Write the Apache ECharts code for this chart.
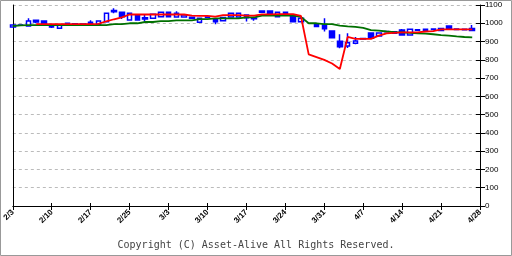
<!DOCTYPE html>
<html><head><meta charset="utf-8">
<script src="https://cdn.jsdelivr.net/npm/echarts@6/dist/echarts.min.js"></script>
<style>html,body{margin:0;padding:0;background:#fff}#c{width:512px;height:256px}</style>
</head><body><div id="c"></div>
<script>
// weekday slots 2/3 .. 4/28
const categories = (function(){
  const out=[]; const d=new Date(2025,1,3); const end=new Date(2025,3,28);
  while(d<=end){ const w=d.getDay(); if(w>0&&w<6) out.push((d.getMonth()+1)+'/'+d.getDate()); d.setDate(d.getDate()+1);} return out;})();
const tickLabels = ['2/3','2/10','2/17','2/25','3/3','3/10','3/17','3/24','3/31','4/7','4/14','4/21','4/28'];
// [open, close, low, high]
const ohlc = [
 [980,990,978,992],[989,991,988,992],[985,1012,984,1027],[1017,1007,1000,1018],[1012,995,994,1013],
 [983,979,974,988],[973,990,972,991],[1000,995,993,1001],[998,996,992,1002],[996,990,988,997],
 [1005,995,993,1016],[995,1012,993,1014],[1008,1055,1006,1056],[1070,1063,1055,1082],[1060,1036,1023,1061],
 [1018,1055,1016,1057],[1045,1018,1017,1047],[1030,1024,1009,1045],[1028,1050,1026,1052],[1036,1060,1035,1061],
 [1060,1036,1034,1062],[1034,1055,1032,1066],[1034,1045,1032,1047],[1033,1028,1023,1036],[1005,1027,1003,1029],
 [1035,1031,1029,1036],[1023,1008,995,1024],[1014,1032,1012,1034],[1034,1055,1032,1057],[1034,1055,1033,1056],
 [1045,1030,1010,1047],[1029,1025,1014,1036],[1067,1060,1058,1069],[1067,1050,1048,1069],[1036,1060,1034,1062],
 [1060,1055,1052,1062],[1042,1009,1007,1044],[1009,1027,1007,1030],'-',[996,982,980,998],
 [990,970,955,1027],[958,921,919,960],[902,872,863,940],[876,894,865,946],[890,903,885,925],
 [916,914,912,918],[947,918,916,949],[930,947,928,949],[955,953,951,957],[954,945,943,956],
 [963,936,934,968],[936,967,934,969],[964,962,958,968],[967,958,956,969],[968,966,964,970],
 [972,960,958,974],[985,972,970,987],[968,966,964,970],[967,965,963,969],[972,960,958,990],'-'
];
const redLine = ['-','-','-',995,995,995,995,995,995,995,995,997,1011,1022,1032,1048,1048,1048,1048,1048,
 1048,1048,1048,1042,1040,1040,1036,1045,1045,1045,1042,1042,1049,1049,1050,1050,1050,1040,830,815,
 800,780,750,925,915,915,915,932,945,948,950,950,950,955,957,967,967,967,967,967,'-'];
const greenLine = [985,988,990,990,990,990,990,990,990,990,990,990,990,995,995,1000,1000,1007,1007,1012,
 1012,1016,1016,1016,1023,1023,1027,1027,1027,1027,1032,1032,1042,1042,1042,1042,1042,1035,1000,1000,
 995,995,987,983,980,975,963,960,955,952,950,947,945,943,940,935,932,928,925,923,'-'];

const chart = echarts.init(document.getElementById('c'));
const tickInt = (i)=> i%5===0;
chart.setOption({
  animation:false,
  grid:{left:10,right:32,top:5,bottom:50},
  graphic:[
    {type:'rect',shape:{x:0.5,y:0.5,width:511,height:255},style:{fill:'none',stroke:'#999',lineWidth:1},silent:true},
    {type:'text',left:'center',top:240,style:{text:'Copyright (C) Asset-Alive All Rights Reserved.',font:'10px "DejaVu Sans Mono"',fill:'#444'}}
  ],
  xAxis:[
    {type:'category',data:categories,boundaryGap:false,position:'bottom',
     axisLine:{lineStyle:{color:'#000',width:1}},
     axisTick:{interval:tickInt,length:4,lineStyle:{color:'#000'}},
     axisLabel:{interval:tickInt,rotate:45,margin:5,fontSize:8,fontWeight:'bold',fontFamily:'Liberation Sans',color:'#000',
       formatter:(v,i)=> tickLabels[Math.round(i/5)]},
     splitLine:{show:false}},
    {type:'category',data:categories,boundaryGap:false,position:'bottom',
     axisLine:{show:false},axisTick:{interval:tickInt,inside:true,length:3,lineStyle:{color:'#000'}},
     axisLabel:{show:false},splitLine:{show:false}}
  ],
  yAxis:[
    {type:'value',position:'right',min:0,max:1100,interval:100,
     axisLine:{show:true,lineStyle:{color:'#000'}},
     axisTick:{show:true,length:5,lineStyle:{color:'#000'}},
     axisLabel:{margin:5,fontSize:8,fontFamily:'Liberation Sans',color:'#000',formatter:(v)=>String(v)},
     splitLine:{show:true,lineStyle:{color:'#bbb',type:[3,3],width:1}}},
    {type:'value',position:'right',min:0,max:1100,interval:100,
     axisLine:{show:false},axisTick:{show:true,inside:true,length:4,lineStyle:{color:'#000'}},
     axisLabel:{show:false},splitLine:{show:false}},
    {type:'value',position:'left',min:0,max:1100,interval:100,
     axisLine:{show:true,lineStyle:{color:'#000'}},axisTick:{show:false},axisLabel:{show:false},splitLine:{show:false}}
  ],
  series:[
    {type:'candlestick',data:ohlc,barWidth:5,xAxisIndex:0,yAxisIndex:0,
     itemStyle:{color:'#fff',color0:'#0000ff',borderColor:'#0000ff',borderColor0:'#0000ff',borderWidth:1.5}},
    {type:'line',data:greenLine,symbol:'none',lineStyle:{color:'#007000',width:1.8},z:3},
    {type:'line',data:redLine,symbol:'none',lineStyle:{color:'#ff0000',width:1.8},z:4}
  ]
});
</script></body></html>
